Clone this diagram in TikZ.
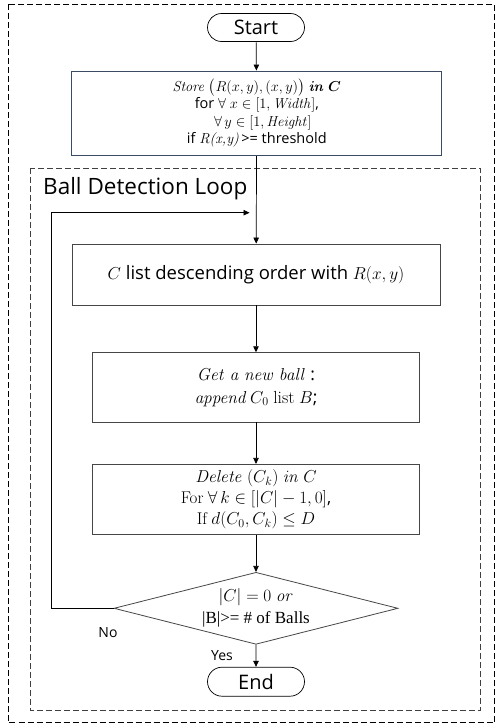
\documentclass[tikz,border=0pt]{standalone}
\usepackage[no-math]{fontspec}
\usepackage{amsmath,amssymb}
\setmainfont{Open Sans}
\newfontfamily\serifrm{Liberation Serif}
\newfontfamily\lmr{Latin Modern Roman}
\usetikzlibrary{shapes.geometric,shapes.misc,arrows.meta}
\definecolor{storeline}{RGB}{60,75,100}
\definecolor{boxline}{RGB}{70,70,70}
\begin{document}
\begin{tikzpicture}[x=1pt,y=-1pt,
  arr/.style={-{Triangle[length=6pt,width=5.5pt]},line width=0.7pt,black},
  term/.style={draw=black,line width=0.7pt,rounded rectangle,minimum width=97pt,minimum height=28pt,inner sep=0pt,font=\fontsize{20}{22}\selectfont},
  proc/.style={draw=boxline,line width=0.8pt,rectangle,inner sep=0pt,align=center},
  dec/.style={draw=boxline,line width=0.8pt,diamond,inner sep=0pt},
  frame/.style={dashed,dash pattern=on 6pt off 3pt,line width=0.8pt}
]
\useasboundingbox (0,0) rectangle (496,726);
% frames
\draw[frame,black] (8,4) rectangle (494.5,722.5);
\draw[frame,black!75] (30.7,168) rectangle (480,710.7);
\node[anchor=west,inner sep=0pt,font=\fontsize{22.5}{24}\selectfont] (loopl) at (43,189) {Ball Detection Loop};

\node[term] (start) at (256,27.5) {Start};

\node[proc,draw=storeline,minimum width=370pt,minimum height=84.7pt,font=\fontsize{14.5}{17.5}\selectfont] (store) at (256.8,113.3)
 {$\mathit{Store}\ \bigl(R(x,y),(x,y)\bigr)\ \boldsymbol{\mathit{in}\ C}$\\
  for $\forall\ x\in[1,\mathit{Width}]$,\\
  \hspace*{12pt}$\forall\,y\in[1,\mathit{Height}]$\\
  if {\lmr\itshape R(x,y)}\,>= threshold};

\node[proc,minimum width=368pt,minimum height=61pt,font=\fontsize{18.5}{22}\selectfont] (clist) at (256,274.5)
 {$C$ list descending order with $R(x,y)$};

\node[proc,minimum width=327.7pt,minimum height=69.3pt,font=\fontsize{17.5}{23}\selectfont] (getb) at (256,387.3)
 {$\mathit{Get\ a\ new\ ball}$ :\\
  $\mathit{append}\,C_0$ {\lmr list} $B$;};

\node[proc,minimum width=327.7pt,minimum height=70pt,font=\fontsize{17}{21}\selectfont] (delb) at (256,499.3)
 {$\mathit{Delete}\ (C_k)\ \mathit{in}\ C$\\
  {\lmr For} $\forall\,k\in[|C|-1,0]$,\\
  {\lmr If} $d(C_0,C_k)\le D$};

\node[dec,minimum width=284pt,minimum height=72pt] (cond) at (256,608.3) {};
\node[align=center,inner sep=0pt,font=\fontsize{17}{22}\selectfont] (condt) at (256,608.3)
 {$|C|=0\ \mathit{or}$\\ {\serifrm |B|>= \# of Balls}};

\node[term,minimum height=29pt] (endn) at (256,681.7) {End};

\node[font=\fontsize{14}{16}\selectfont] (nol) at (108,633) {No};
\node[font=\fontsize{14}{16}\selectfont] (yesl) at (222,656) {Yes};

% connectors
\draw[arr] (start) -- (store);
\draw[arr] (store) -- (clist);
\draw[arr] (clist) -- (getb);
\draw[arr] (getb) -- (delb);
\draw[arr] (delb) -- (cond);
\draw[arr] (cond) -- (endn);
\coordinate (lpc) at (51.7,608.3);
\coordinate (lpe) at (249.5,212.7);
\draw[arr] (cond.west) -- (lpc) |- (lpe);
\end{tikzpicture}
\end{document}
